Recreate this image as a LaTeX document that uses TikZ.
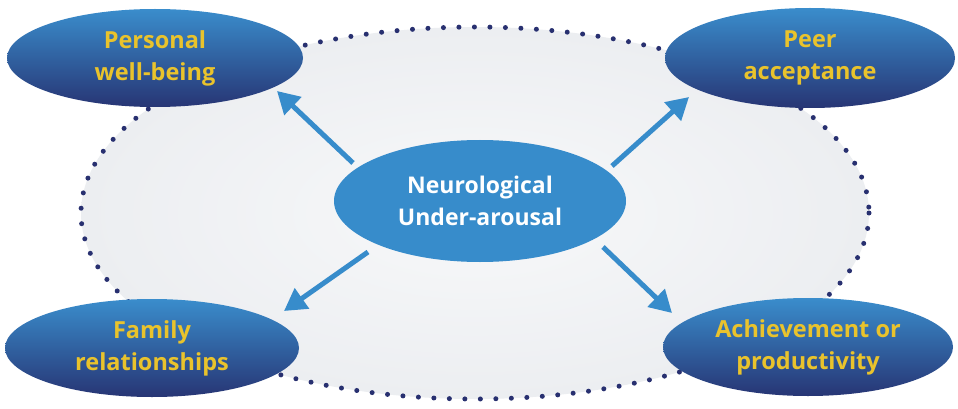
\documentclass[tikz,border=0pt]{standalone}
\usepackage{fontspec}
\setmainfont{Open Sans}
\usetikzlibrary{shapes.geometric,arrows.meta}
\definecolor{dotblue}{HTML}{283070}
\definecolor{gtop}{HTML}{3A8DCC}
\definecolor{gbot}{HTML}{273574}
\definecolor{cblue}{HTML}{378CCB}
\definecolor{ytext}{HTML}{E9C32C}
\definecolor{bgfill}{HTML}{ECEEF1}
\tikzset{
  outer/.style={ellipse, inner sep=0pt, minimum width=296pt, minimum height=98pt,
    top color=gtop, bottom color=gbot, text=ytext, font=\bfseries\fontsize{23.5}{32}\selectfont, align=center},
  hub/.style={ellipse, inner sep=0pt, minimum width=292pt, minimum height=122pt,
    fill=cblue, text=white, font=\bfseries\fontsize{23}{32}\selectfont, align=center},
  arr/.style={draw=cblue, line width=5pt, -{Triangle[length=22pt,width=24pt]}},
  dotring/.style={draw=dotblue, line width=5pt, line cap=round, dash pattern=on 0pt off 15.5pt}
}
\begin{document}
\begin{tikzpicture}[x=1pt,y=-1pt]
\useasboundingbox (0,0) rectangle (958,409);
\fill[white] (0,0) rectangle (958,409);
% background dotted ellipse
\path[inner color=white!60!bgfill, outer color=bgfill] (475,213) ellipse [x radius=394, y radius=186];
\draw[dotring] (475,213) ellipse [x radius=394, y radius=186];
% nodes
\node[hub] (c) at (480,201) {Neurological\\Under-arousal};
\node[outer] (tl) at (155,58) {Personal\\well-being};
\node[outer, minimum width=290pt, minimum height=100pt] (tr) at (810,58) {Peer\\acceptance};
\node[outer, minimum width=294pt] (bl) at (152,348) {Family\\relationships};
\node[outer, minimum width=290pt] (br) at (808,347) {Achievement or\\productivity};
% arrow ends
\coordinate (a1s) at (353,163); \coordinate (a1e) at (277,91);
\coordinate (a2s) at (612,166); \coordinate (a2e) at (689,97);
\coordinate (a3s) at (368,252); \coordinate (a3e) at (284,311);
\coordinate (a4s) at (603,247); \coordinate (a4e) at (672,313);
\draw[arr] (a1s) -- (a1e);
\draw[arr] (a2s) -- (a2e);
\draw[arr] (a3s) -- (a3e);
\draw[arr] (a4s) -- (a4e);
\end{tikzpicture}
\end{document}
